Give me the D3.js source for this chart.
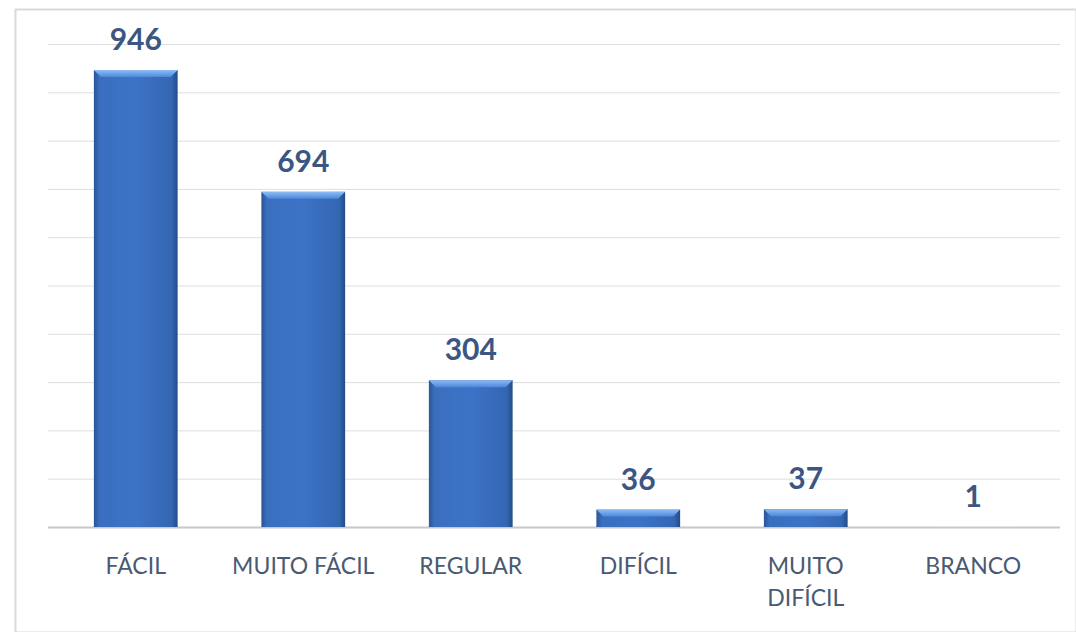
<!DOCTYPE html>
<html>
<head>
<meta charset="utf-8">
<script src="https://cdn.jsdelivr.net/npm/d3@7"></script>
<style>
  body { margin: 0; background: #fff; }
  svg { display: block; }
</style>
</head>
<body>
<svg id="chart"></svg>
<script>
// data
const categories = ["FÁCIL", "MUITO FÁCIL", "REGULAR", "DIFÍCIL", "MUITO DIFÍCIL", "BRANCO"];
const values = [946, 694, 304, 36, 37, 1];
const yTicks = [0, 100, 200, 300, 400, 500, 600, 700, 800, 900, 1000];

const width = 1076, height = 632;
const margin = { top: 44, right: 19, bottom: 105, left: 52 };

const svg = d3.select("#chart").attr("width", width).attr("height", height);

// frame around the chart area
svg.append("rect")
  .attr("x", 15.5).attr("y", 9.5)
  .attr("width", width - 15).attr("height", height - 9)
  .attr("fill", "#fff").attr("stroke", "#d9d9d9").attr("stroke-width", 2);

const innerW = width - margin.left - margin.right;
const innerH = height - margin.top - margin.bottom;

const x = d3.scaleBand().domain(categories).range([0, innerW]).paddingInner(0.5).paddingOuter(0.25);
const y = d3.scaleLinear().domain([0, 1000]).range([innerH, 0]);

const g = svg.append("g").attr("transform", `translate(${margin.left},${margin.top})`);

// gradients for the bevelled bars
const defs = svg.append("defs");
const bodyGrad = defs.append("linearGradient").attr("id", "barBody").attr("x1", 0).attr("x2", 1).attr("y1", 0).attr("y2", 0);
bodyGrad.append("stop").attr("offset", "0%").attr("stop-color", "#2a5697");
bodyGrad.append("stop").attr("offset", "7%").attr("stop-color", "#3a6fbf");
bodyGrad.append("stop").attr("offset", "50%").attr("stop-color", "#3d73c6");
bodyGrad.append("stop").attr("offset", "93%").attr("stop-color", "#3466b2");
bodyGrad.append("stop").attr("offset", "100%").attr("stop-color", "#244b86");

const topGrad = defs.append("linearGradient").attr("id", "barTop").attr("x1", 0).attr("x2", 0).attr("y1", 0).attr("y2", 1);
topGrad.append("stop").attr("offset", "0%").attr("stop-color", "#8ebcf3");
topGrad.append("stop").attr("offset", "100%").attr("stop-color", "#4d88da");

// gridlines
g.append("g")
  .attr("class", "grid")
  .call(d3.axisLeft(y).tickValues(yTicks).tickSize(-(innerW + 7)).tickFormat(""))
  .attr("transform", "translate(-4,0)")
  .call(sel => sel.select(".domain").remove())
  .call(sel => sel.selectAll(".tick line").attr("stroke", (d) => d === 0 ? "#c8c8c8" : "#dedede").attr("stroke-width", (d) => d === 0 ? 2 : 1));

const data = categories.map((c, i) => ({ cat: c, value: values[i] }));

const bars = g.selectAll(".bar").data(data).join("g").attr("class", "bar");

bars.append("rect")
  .attr("x", d => x(d.cat))
  .attr("y", d => y(d.value))
  .attr("width", x.bandwidth())
  .attr("height", d => y(0) - y(d.value))
  .attr("fill", d => d.value < 5 ? "#e6e6e6" : "url(#barBody)");

// top bevel
bars.filter(d => d.value >= 5).append("path")
  .attr("d", d => {
    const x0 = x(d.cat), x1 = x0 + x.bandwidth();
    const y0 = y(d.value);
    const b = Math.min(7, (y(0) - y0) / 2);
    return `M${x0},${y0}L${x1},${y0}L${x1 - b},${y0 + b}L${x0 + b},${y0 + b}Z`;
  })
  .attr("fill", "url(#barTop)");

// value labels
bars.append("text")
  .attr("x", d => x(d.cat) + x.bandwidth() / 2)
  .attr("y", d => y(d.value) - 20)
  .attr("text-anchor", "middle")
  .attr("font-family", "Lato, 'Open Sans', sans-serif")
  .attr("font-weight", "bold")
  .attr("font-size", 30)
  .attr("fill", "#3b5683")
  .text(d => d.value);

// category labels
const xAxisG = g.append("g")
  .attr("transform", `translate(0,${innerH})`)
  .call(d3.axisBottom(x).tickSize(0).tickPadding(0).tickFormat(""));
xAxisG.select(".domain").remove();

xAxisG.selectAll(".tick").append("text")
  .attr("text-anchor", "middle")
  .attr("font-family", "Lato, 'Open Sans', sans-serif")
  .attr("font-size", 23)
  .attr("fill", "#4a5a72")
  .each(function (d) {
    const t = d3.select(this);
    const words = d === "MUITO DIFÍCIL" ? ["MUITO", "DIFÍCIL"] : [d];
    words.forEach((w, i) => {
      t.append("tspan").attr("x", 0).attr("y", 47 + i * 32).text(w);
    });
  });
</script>
</body>
</html>
